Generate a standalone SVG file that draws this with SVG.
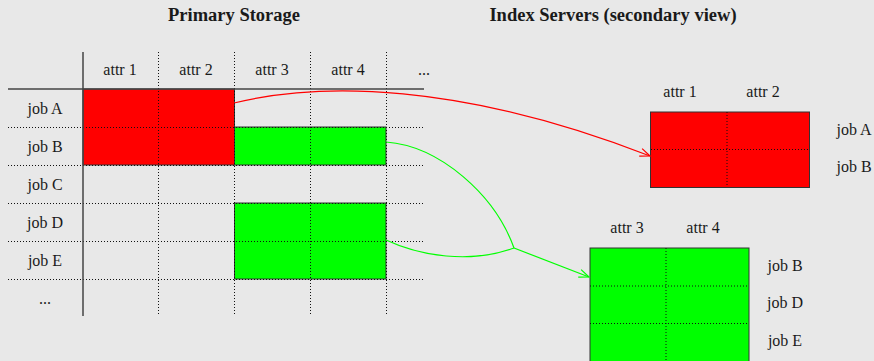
<svg xmlns="http://www.w3.org/2000/svg" width="874" height="361" viewBox="0 0 874 361">
<style>
text{font-family:"Liberation Serif","Times New Roman",serif;fill:#1a1a1a;font-size:16px;text-anchor:middle}
.title{font-weight:bold;font-size:18.5px}
.dot{stroke:#111;stroke-width:1;stroke-dasharray:1 2;fill:none}
.solid{stroke:#444;stroke-width:1.5;fill:none}
.red{fill:#ff0000;stroke:#333;stroke-width:1}
.green{fill:#00ff00;stroke:#333;stroke-width:1}
.cr{stroke:#ff0000;stroke-width:1.2;fill:none}
.cg{stroke:#00ff00;stroke-width:1.2;fill:none}
</style>
<defs>
<marker id="ar" markerUnits="userSpaceOnUse" markerWidth="14" markerHeight="12" refX="11" refY="5" orient="auto"><path d="M1,1 L11,5 L1,9" fill="none" stroke="#ff0000" stroke-width="1.2"/></marker>
<marker id="ag" markerUnits="userSpaceOnUse" markerWidth="14" markerHeight="12" refX="11" refY="5" orient="auto"><path d="M1,1 L11,5 L1,9" fill="none" stroke="#00ff00" stroke-width="1.2"/></marker>
</defs>
<rect width="874" height="361" fill="#e8e8e8"/>
<text class="title" x="234" y="21">Primary Storage</text>
<text class="title" x="613" y="21">Index Servers (secondary view)</text>

<g id="primary">
<rect class="red" x="83" y="89" width="151.5" height="76"/>
<rect class="green" x="234.5" y="127" width="151.5" height="38"/>
<rect class="green" x="234.5" y="203" width="151.5" height="76"/>
<g class="dot">
<line x1="158.5" y1="52" x2="158.5" y2="316"/>
<line x1="234.5" y1="52" x2="234.5" y2="316"/>
<line x1="310.5" y1="52" x2="310.5" y2="316"/>
<line x1="386.5" y1="52" x2="386.5" y2="316"/>
<line x1="8" y1="127.5" x2="424" y2="127.5"/>
<line x1="8" y1="165.5" x2="424" y2="165.5"/>
<line x1="8" y1="203.5" x2="424" y2="203.5"/>
<line x1="8" y1="241.5" x2="424" y2="241.5"/>
<line x1="8" y1="279.5" x2="424" y2="279.5"/>
</g>
<line class="solid" x1="83" y1="52" x2="83" y2="316"/>
<line class="solid" x1="8" y1="89" x2="424" y2="89"/>
<text x="120" y="74.5">attr 1</text>
<text x="196" y="74.5">attr 2</text>
<text x="272" y="74.5">attr 3</text>
<text x="348" y="74.5">attr 4</text>
<text x="424" y="74.5">...</text>
<text x="45" y="113.5">job A</text>
<text x="45" y="151.5">job B</text>
<text x="45" y="189.5">job C</text>
<text x="45" y="227.5">job D</text>
<text x="45" y="265.5">job E</text>
<text x="45" y="303.5">...</text>
</g>

<g id="index-red">
<rect class="red" x="650.5" y="112" width="159" height="75.5"/>
<line class="dot" x1="727" y1="112" x2="727" y2="187"/>
<line class="dot" x1="651" y1="149.5" x2="809" y2="149.5"/>
<text x="680" y="97">attr 1</text>
<text x="763" y="97">attr 2</text>
<text x="854" y="135">job A</text>
<text x="854" y="172">job B</text>
</g>

<g id="index-green">
<rect class="green" x="590" y="248" width="159" height="116"/>
<line class="dot" x1="666" y1="248" x2="666" y2="361"/>
<line class="dot" x1="590" y1="286" x2="749" y2="286"/>
<line class="dot" x1="590" y1="323.5" x2="749" y2="323.5"/>
<text x="627" y="232.5">attr 3</text>
<text x="703" y="232.5">attr 4</text>
<text x="785" y="271">job B</text>
<text x="785" y="308">job D</text>
<text x="785" y="346">job E</text>
</g>

<g id="connectors">
<path class="cr" d="M234,103 C320,82 460,82 650,156" marker-end="url(#ar)"/>
<path class="cg" d="M386,142 C440,146 495,195 514,248"/>
<path class="cg" d="M386,240 C420,256 470,264 514,248"/>
<path class="cg" d="M514,248 L589,277" marker-end="url(#ag)"/>
</g>
</svg>
